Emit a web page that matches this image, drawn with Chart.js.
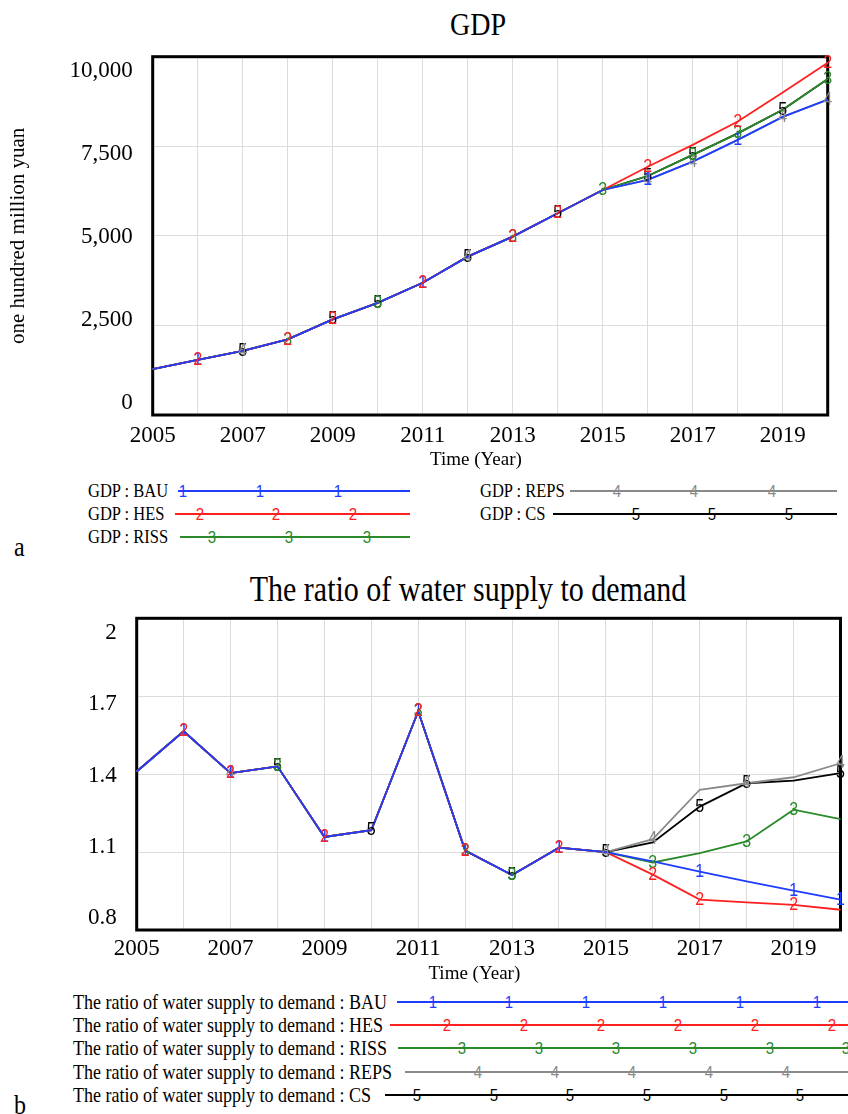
<!DOCTYPE html>
<html>
<head>
<meta charset="utf-8">
<script src="https://cdn.jsdelivr.net/npm/chart.js@4.4.1/dist/chart.umd.min.js"></script>
<style>
  html, body { margin: 0; padding: 0; background: #fff; }
  body { width: 848px; height: 1114px; position: relative; overflow: hidden;
         font-family: "Liberation Serif", "Times New Roman", serif; color: #000; }
  .abs { position: absolute; white-space: nowrap; line-height: 1; }
  canvas { position: absolute; left: 0; }
</style>
</head>
<body>
<div class="abs" style="left:478px;top:25px;transform:translate(-50%,-50%) scaleY(1.16);font-size:28px;">GDP</div>
<canvas id="gdp" width="848" height="475" style="top:0px;"></canvas>
<div class="abs" style="left:14px;top:547px;transform:translateY(-50%) scaleY(1.16);font-size:24px;">a</div>

<div class="abs" style="left:468px;top:589px;transform:translate(-50%,-50%) scaleY(1.16);font-size:30px;">The ratio of water supply to demand</div>
<canvas id="ratio" width="848" height="430" style="top:560px;"></canvas>
<div class="abs" style="left:14px;top:1105px;transform:translateY(-50%) scaleY(1.16);font-size:24px;">b</div>

<div id="legends"></div>

<script>
// ---------------- DATA ----------------
const years = [2005, 2006, 2007, 2008, 2009, 2010, 2011, 2012, 2013, 2014, 2015, 2016, 2017, 2018, 2019, 2020];
const xTickYears = [2005, 2007, 2009, 2011, 2013, 2015, 2017, 2019];

const scenarioNames = ['BAU', 'HES', 'RISS', 'REPS', 'CS'];

// GDP (one hundred million yuan)
const gdpBAU  = [1280, 1540, 1790, 2110, 2670, 3130, 3690, 4420, 4980, 5630, 6280, 6560, 7070, 7680, 8320, 8800];
const gdpHES  = [1280, 1540, 1790, 2110, 2670, 3130, 3690, 4420, 4980, 5630, 6280, 6930, 7540, 8190, 9000, 9830];
const gdpRISS = [1280, 1540, 1790, 2110, 2670, 3130, 3690, 4420, 4980, 5630, 6280, 6670, 7260, 7860, 8520, 9380];
const gdpREPS = [1280, 1540, 1790, 2110, 2670, 3130, 3690, 4420, 4980, 5630, 6280, 6560, 7070, 7680, 8320, 8800];
const gdpCS   = [1280, 1540, 1790, 2110, 2670, 3130, 3690, 4420, 4980, 5630, 6280, 6670, 7260, 7860, 8520, 9380];
const gdpTicks = [0, 2500, 5000, 7500, 10000];
const gdpTickLabels = ['0', '2,500', '5,000', '7,500', '10,000'];

// Ratio of water supply to demand
const ratioBAU  = [1.410, 1.565, 1.404, 1.430, 1.158, 1.184, 1.642, 1.106, 1.012, 1.117, 1.100, 1.064, 1.025, 0.987, 0.952, 0.917];
const ratioHES  = [1.410, 1.565, 1.404, 1.430, 1.158, 1.184, 1.642, 1.106, 1.012, 1.117, 1.100, 1.013, 0.917, 0.906, 0.897, 0.878];
const ratioRISS = [1.410, 1.565, 1.404, 1.430, 1.158, 1.184, 1.642, 1.106, 1.012, 1.117, 1.100, 1.060, 1.096, 1.141, 1.263, 1.227];
const ratioREPS = [1.410, 1.565, 1.404, 1.430, 1.158, 1.184, 1.642, 1.106, 1.012, 1.117, 1.100, 1.150, 1.340, 1.365, 1.388, 1.442];
const ratioCS   = [1.410, 1.565, 1.404, 1.430, 1.158, 1.184, 1.642, 1.106, 1.012, 1.117, 1.100, 1.137, 1.275, 1.365, 1.375, 1.404];
const ratioTicks = [0.8, 1.1, 1.4, 1.7, 2.0];
const ratioTickLabels = ['0.8', '1.1', '1.4', '1.7', '2'];

// ---------------- STYLE ----------------
const colors = ['#1f3dff', '#ff2020', '#2a8a2a', '#8a8a8a', '#000000'];
const digits = ['1', '2', '3', '4', '5'];
const SERIF = '"Liberation Serif", "Times New Roman", serif';
const SANS = '"Liberation Sans", Arial, sans-serif';
const GRID = '#dcdcdc';
const STRETCH = 1.16;

// indices (into years) where the curve number is printed
const gdpMarks = [
  [1, 6, 11, 13],
  [1, 3, 4, 6, 8, 9, 11, 13, 15],
  [3, 5, 8, 10, 12, 13, 15],
  [2, 7, 11, 12, 14, 15],
  [2, 4, 5, 7, 9, 11, 12, 14]
];
const ratioMarks = [
  [1, 2, 4, 6, 7, 9, 12, 14, 15],
  [1, 2, 4, 6, 7, 9, 11, 12, 14],
  [3, 6, 7, 8, 11, 13, 14],
  [2, 10, 11, 13, 15],
  [3, 5, 8, 10, 12, 13, 15]
];

Chart.defaults.font.family = SERIF;
Chart.defaults.color = '#000';

const framePlugin = {
  id: 'frame',
  beforeDatasetsDraw(chart) {
    const a = chart.chartArea, ctx = chart.ctx;
    ctx.save();
    ctx.strokeStyle = '#000';
    ctx.lineWidth = 3;
    ctx.strokeRect(a.left, a.top, a.right - a.left, a.bottom - a.top);
    ctx.restore();
  }
};

const marksPlugin = {
  id: 'digitMarks',
  afterDatasetsDraw(chart) {
    const ctx = chart.ctx;
    const order = [4, 3, 0, 2, 1];
    for (const di of order) {
      const ds = chart.data.datasets[di];
      const meta = chart.getDatasetMeta(di);
      for (const j of ds.marks) {
        const el = meta.data[j];
        if (!el) continue;
        ctx.save();
        ctx.font = '16px ' + SANS;
        ctx.textAlign = 'center';
        ctx.textBaseline = 'middle';
        ctx.fillStyle = ds.borderColor;
        ctx.translate(el.x, el.y);
        ctx.scale(1, STRETCH);
        ctx.fillText(ds.digit, 0, 0);
        ctx.restore();
      }
    }
  }
};

function makeDatasets(series, prefix, marks) {
  return series.map((vals, i) => ({
    label: prefix + ' : ' + scenarioNames[i],
    data: vals,
    borderColor: colors[i],
    backgroundColor: colors[i],
    borderWidth: 1.8,
    pointRadius: 0,
    tension: 0,
    fill: false,
    marks: marks[i],
    digit: digits[i]
  }));
}

function makeChart(id, cfg) {
  return new Chart(document.getElementById(id), {
    type: 'line',
    data: { labels: years.map(String), datasets: cfg.datasets },
    plugins: [framePlugin, marksPlugin],
    options: {
      responsive: false,
      animation: false,
      devicePixelRatio: 1,
      layout: { padding: cfg.padding },
      plugins: { legend: { display: false }, tooltip: { enabled: false }, title: { display: false } },
      scales: {
        x: {
          type: 'category',
          offset: false,
          grid: { color: GRID, lineWidth: 1, drawTicks: false, offset: false },
          border: { display: false },
          ticks: {
            autoSkip: false, maxRotation: 0, minRotation: 0,
            padding: cfg.xPad,
            font: { family: SERIF, size: 23, lineHeight: 1 },
            callback: (v, i) => xTickYears.includes(years[i]) ? String(years[i]) : ''
          },
          title: {
            display: true, text: 'Time (Year)      ',
            font: { family: SERIF, size: 19, lineHeight: 1 },
            padding: { top: 0, bottom: cfg.xTitlePad }
          },
          afterFit: s => { s.height = 60; }
        },
        y: {
          type: 'linear', position: 'left', weight: 0,
          min: cfg.min, max: cfg.max,
          grid: { color: GRID, lineWidth: 1, drawTicks: false },
          border: { display: false },
          ticks: { display: false },
          afterBuildTicks: s => { s.ticks = cfg.ticks.map(v => ({ value: v })); },
          afterFit: s => { s.width = 0; }
        },
        yL: {
          type: 'linear', position: 'left', weight: 1,
          min: cfg.lmin, max: cfg.lmax,
          grid: { display: false, drawTicks: false },
          border: { display: false },
          ticks: {
            padding: 20,
            font: { family: SERIF, size: 23, lineHeight: 1 },
            callback: (v, i) => cfg.tickLabels[i]
          },
          afterBuildTicks: s => { s.ticks = cfg.ticks.map(v => ({ value: v })); },
          title: cfg.yTitle ? {
            display: true, text: cfg.yTitle,
            font: { family: SERIF, size: 21, lineHeight: 1 },
            padding: { top: 8, bottom: 0 }
          } : { display: false },
          afterFit: s => { s.width = cfg.leftW; }
        }
      }
    }
  });
}

makeChart('gdp', {
  datasets: makeDatasets([gdpBAU, gdpHES, gdpRISS, gdpREPS, gdpCS], 'GDP', gdpMarks),
  padding: { top: 56.7, right: 20.3, left: 0, bottom: 0 },
  min: 0, max: 10000, lmin: -361, lmax: 10431,
  ticks: gdpTicks, tickLabels: gdpTickLabels,
  leftW: 152.7, xPad: 9.5, xTitlePad: 5,
  yTitle: 'one hundred million yuan'
});

makeChart('ratio', {
  datasets: makeDatasets([ratioBAU, ratioHES, ratioRISS, ratioREPS, ratioCS], 'The ratio of water supply to demand', ratioMarks),
  padding: { top: 58.3, right: 7, left: 0, bottom: 0 },
  min: 0.8, max: 2.0, lmin: 0.7495, lmax: 2.0619,
  ticks: ratioTicks, tickLabels: ratioTickLabels,
  leftW: 136.7, xPad: 7.5, xTitlePad: 6,
  yTitle: null
});

// ---------------- LEGENDS (Vensim style) ----------------
const legendItems = [
  // GDP
  { s: 0, text: 'GDP : BAU',  tx: 88,  y: 491, fs: 16.5, x1: 178, x2: 410, dx: [183, 260, 338] },
  { s: 1, text: 'GDP : HES',  tx: 88,  y: 514, fs: 16.5, x1: 175, x2: 410, dx: [200, 276, 353] },
  { s: 2, text: 'GDP : RISS', tx: 88,  y: 537, fs: 16.5, x1: 180, x2: 410, dx: [212, 289, 367] },
  { s: 3, text: 'GDP : REPS', tx: 480, y: 491, fs: 16.5, x1: 570, x2: 837, dx: [617, 694, 772] },
  { s: 4, text: 'GDP : CS',   tx: 480, y: 514, fs: 16.5, x1: 553, x2: 837, dx: [636, 712, 789] },
  // Ratio
  { s: 0, text: 'The ratio of water supply to demand : BAU',  tx: 73, y: 1002, fs: 18, x1: 397, x2: 848, dx: [433, 509, 586, 663, 740, 817] },
  { s: 1, text: 'The ratio of water supply to demand : HES',  tx: 73, y: 1025, fs: 18, x1: 390, x2: 848, dx: [447, 524, 601, 678, 755, 832] },
  { s: 2, text: 'The ratio of water supply to demand : RISS', tx: 73, y: 1048, fs: 18, x1: 398, x2: 848, dx: [462, 539, 616, 693, 770, 846] },
  { s: 3, text: 'The ratio of water supply to demand : REPS', tx: 73, y: 1072, fs: 18, x1: 405, x2: 848, dx: [478, 555, 632, 709, 786] },
  { s: 4, text: 'The ratio of water supply to demand : CS',   tx: 73, y: 1095, fs: 18, x1: 385, x2: 848, dx: [417, 494, 570, 647, 724, 800] }
];

const host = document.getElementById('legends');
for (const it of legendItems) {
  const t = document.createElement('div');
  t.className = 'abs';
  t.textContent = it.text;
  t.style.cssText = `left:${it.tx}px;top:${it.y}px;transform:translateY(-50%) scaleY(${STRETCH});font-size:${it.fs}px;`;
  host.appendChild(t);
  const l = document.createElement('div');
  l.className = 'abs';
  l.style.cssText = `left:${it.x1}px;top:${it.y - 0.75}px;width:${it.x2 - it.x1}px;height:1.5px;background:${colors[it.s]};`;
  host.appendChild(l);
  for (const x of it.dx) {
    const d = document.createElement('div');
    d.className = 'abs';
    d.textContent = digits[it.s];
    d.style.cssText = `left:${x}px;top:${it.y}px;transform:translate(-50%,-50%) scaleY(${STRETCH});font-family:${SANS};font-size:15px;color:${colors[it.s]};`;
    host.appendChild(d);
  }
}
</script>
</body>
</html>
